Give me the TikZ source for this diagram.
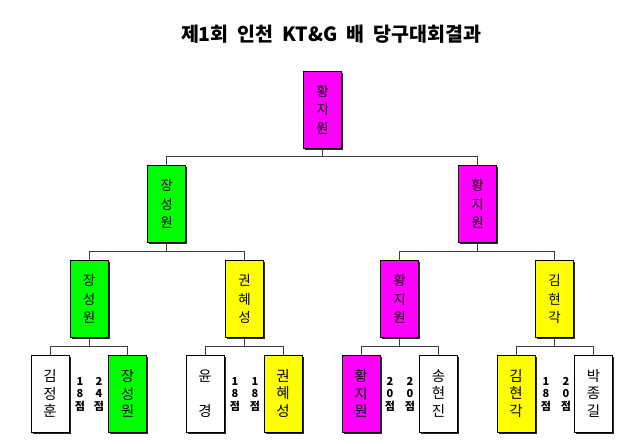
\documentclass[tikz,border=0pt]{standalone}
\usepackage{fontspec}
\newfontfamily\kr{Noto Sans CJK KR}
\usetikzlibrary{shadows}
\definecolor{mag}{RGB}{255,0,255}
\definecolor{grn}{RGB}{0,255,0}
\definecolor{yel}{RGB}{255,255,0}
\definecolor{conn}{RGB}{60,60,60}
\tikzset{
  pbox/.style={draw=black, line width=0.9pt, minimum width=38pt, minimum height=77pt,
    inner sep=0pt, align=center, font=\kr\fontsize{13.5}{18.5}\selectfont,
    drop shadow={shadow xshift=1.6pt, shadow yshift=-1.6pt, fill=black!85, opacity=1}},
  leafbox/.style={pbox, font=\kr\fontsize{14.5}{17.5}\selectfont},
  score/.style={align=center, inner sep=0pt, font=\kr\bfseries\fontsize{11}{12.5}\selectfont},
  link/.style={draw=conn, line width=0.7pt},
}
\begin{document}
\begin{tikzpicture}[x=1pt, y=-1pt]
\useasboundingbox (0,0) rectangle (640,444);
\node[font=\kr\bfseries\fontsize{19.5}{21}\selectfont, inner sep=0pt] (title) at (331,34) {제1회\ \ 인천\ \ KT\&G\ \ 배\ \ 당구대회결과};
% level 1
\node[pbox, fill=mag] (a) at (322.5,109.5) {황\\지\\원};
% level 2
\node[pbox, fill=grn] (b1) at (166.5,204) {장\\성\\원};
\node[pbox, fill=mag] (b2) at (477.5,204) {황\\지\\원};
% level 3
\node[pbox, fill=grn] (c1) at (89,299) {장\\성\\원};
\node[pbox, fill=yel] (c2) at (244.5,299) {권\\혜\\성};
\node[pbox, fill=mag] (c3) at (399.5,299) {황\\지\\원};
\node[pbox, fill=yel] (c4) at (554.5,299) {김\\현\\각};
% level 4
\node[leafbox, fill=white] (d1) at (50,393.5) {김\\정\\훈};
\node[leafbox, fill=grn] (d2) at (127.5,393.5) {장\\성\\원};
\node[leafbox, fill=white] (d3) at (205,393.5) {윤\\\mbox{}\\경};
\node[leafbox, fill=yel] (d4) at (283,393.5) {권\\혜\\성};
\node[leafbox, fill=mag] (d5) at (361,393.5) {황\\지\\원};
\node[leafbox, fill=white] (d6) at (438.5,393.5) {송\\현\\진};
\node[leafbox, fill=yel] (d7) at (516,393.5) {김\\현\\각};
\node[leafbox, fill=white] (d8) at (593.5,393.5) {박\\종\\길};
% scores
\node[score] (s1) at (80,394) {1\\8\\점};
\node[score] (s2) at (99,394) {2\\4\\점};
\node[score] (s3) at (235,394) {1\\8\\점};
\node[score] (s4) at (255,394) {1\\8\\점};
\node[score] (s5) at (390,394) {2\\0\\점};
\node[score] (s6) at (410,394) {2\\0\\점};
\node[score] (s7) at (546,394) {1\\8\\점};
\node[score] (s8) at (566,394) {2\\0\\점};
% connectors
\foreach \p/\c in {a/b1,a/b2}{\draw[link] (\p.south) -- ++(0,8) -| (\c.north);}
\foreach \p/\c in {b1/c1,b1/c2,b2/c3,b2/c4}{\draw[link] (\p.south) -- ++(0,8) -| (\c.north);}
\foreach \p/\c in {c1/d1,c1/d2,c2/d3,c2/d4,c3/d5,c3/d6,c4/d7,c4/d8}{\draw[link] (\p.south) -- ++(0,8.5) -| (\c.north);}
\end{tikzpicture}
\end{document}
